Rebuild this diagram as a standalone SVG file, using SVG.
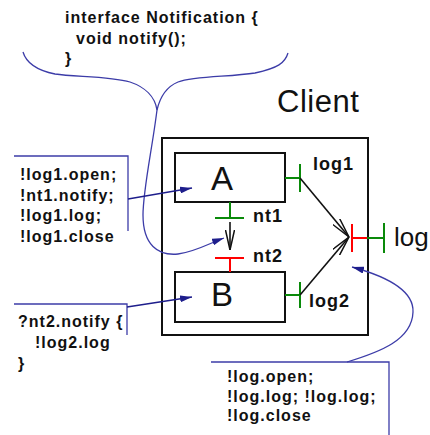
<svg xmlns="http://www.w3.org/2000/svg" width="430" height="435" viewBox="0 0 430 435">
  <defs>
    <style>
      .code { font-family: "Liberation Sans", Arial, sans-serif; font-size: 16px; font-weight: bold; letter-spacing: 1px; fill: #111; }
      .port-label { font-family: "Liberation Sans", Arial, sans-serif; font-size: 18px; font-weight: bold; letter-spacing: 1px; fill: #111; }
      .big { font-family: "Liberation Sans", Arial, sans-serif; fill: #111; }
      .box { fill: #fff; stroke: #111; stroke-width: 2; }
      .green { stroke: #0a8a0a; stroke-width: 2; fill: none; }
      .red { stroke: #ff0000; stroke-width: 2; fill: none; }
      .note { stroke: #3c3ca8; stroke-width: 1.3; fill: none; }
      .ptr { stroke: #1e1e8c; stroke-width: 1.3; fill: none; }
      .bind { stroke: #111; stroke-width: 1.6; fill: none; }
    </style>
    <marker id="open-head" viewBox="0 0 20 10" refX="20" refY="5" markerWidth="20" markerHeight="10" markerUnits="userSpaceOnUse" orient="auto">
      <path d="M0,0.5 L20,5 L0,9.5" fill="none" stroke="#111" stroke-width="1.5"/>
    </marker>
    <marker id="blue-head" viewBox="0 0 12 7" refX="12" refY="3.5" markerWidth="12" markerHeight="7" markerUnits="userSpaceOnUse" orient="auto">
      <path d="M0,0 L12,3.5 L0,7 z" fill="#1e1e8c"/>
    </marker>
  </defs>

  <rect width="430" height="435" fill="#fff"/>

  <!-- interface declaration with brace -->
  <g id="interface">
    <text class="code" x="65" y="23">interface Notification {</text>
    <text class="code" x="76" y="43.5">void notify();</text>
    <text class="code" x="65" y="64">}</text>
  </g>

  <!-- Client component -->
  <g id="client">
    <rect class="box" x="162" y="138" width="206" height="197"/>
    <text class="big" x="277" y="112" font-size="31" letter-spacing="0.5">Client</text>
  </g>

  <g id="node-a">
    <rect class="box" x="175" y="153" width="110" height="49"/>
    <text class="big" x="222" y="190" font-size="33" text-anchor="middle">A</text>
  </g>

  <g id="node-b">
    <rect class="box" x="175" y="272" width="110" height="50"/>
    <text class="big" x="222" y="306" font-size="33" text-anchor="middle">B</text>
  </g>

  <!-- ports -->
  <g id="port-log1">
    <path class="green" d="M285,178 H300 M300,164 V192"/>
    <text class="port-label" x="313" y="170">log1</text>
  </g>
  <g id="port-log2">
    <path class="green" d="M285,295 H300 M300,282 V308"/>
    <text class="port-label" x="309" y="307">log2</text>
  </g>
  <g id="port-nt1">
    <path class="green" d="M230,202 V218 M215,218 H244"/>
    <text class="port-label" x="253" y="222">nt1</text>
  </g>
  <g id="port-nt2">
    <path class="red" d="M215,258 H244 M230,258 V272"/>
    <text class="port-label" x="253" y="262">nt2</text>
  </g>
  <g id="port-log">
    <path class="red" d="M352,224 V252 M352,238 H367"/>
    <path class="green" d="M367,238 H384 M384,223 V253"/>
    <text class="big" x="394" y="246" font-size="26">log</text>
  </g>

  <!-- behaviour notes -->
  <g id="note-a">
    <path class="note" d="M14,156 H128 V231"/>
    <text class="code" x="20" y="180">!log1.open;</text>
    <text class="code" x="20" y="200.5">!nt1.notify;</text>
    <text class="code" x="20" y="221">!log1.log;</text>
    <text class="code" x="20" y="241.5">!log1.close</text>
  </g>
  <g id="note-b">
    <path class="note" d="M14,304 H127 V335"/>
    <text class="code" x="18" y="327">?nt2.notify {</text>
    <text class="code" x="35" y="348">!log2.log</text>
    <text class="code" x="18" y="369">}</text>
  </g>
  <g id="note-log">
    <path class="note" d="M211,362 H389 V435"/>
    <text class="code" x="227" y="382">!log.open;</text>
    <text class="code" x="227" y="402">!log.log; !log.log;</text>
    <text class="code" x="227" y="421">!log.close</text>
  </g>

  <!-- connectors -->
  <g id="connectors">
    <!-- brace under the interface, pointing at the nt1/nt2 binding -->
    <path class="note" d="M23,52 C26,62 35,70 55,74 C75,77 110,76 130,82 C145,87 155,97 157,110"/>
    <path class="note" d="M288,53 C285,63 278,68 255,73 C230,77 195,76 178,82 C166,87 160,97 157,110"/>
    <path class="note" d="M157,110 C152,150 143,190 143,215 C143,245 158,256 178,254 C195,252 210,243 224,238" marker-end="url(#blue-head)"/>

    <!-- note pointers -->
    <path class="ptr" d="M128,199 L192,188" marker-end="url(#blue-head)"/>
    <path class="ptr" d="M127,307 L192,297" marker-end="url(#blue-head)"/>
    <path class="note" d="M347,362 C380,352 412,340 413,312 C414,290 385,276 352,267" marker-end="url(#blue-head)"/>

    <!-- bindings -->
    <path class="bind" d="M230,222 V250" marker-end="url(#open-head)"/>
    <path class="bind" d="M300,178 L349,237" marker-end="url(#open-head)"/>
    <path class="bind" d="M300,295 L349,237" marker-end="url(#open-head)"/>
  </g>
</svg>
